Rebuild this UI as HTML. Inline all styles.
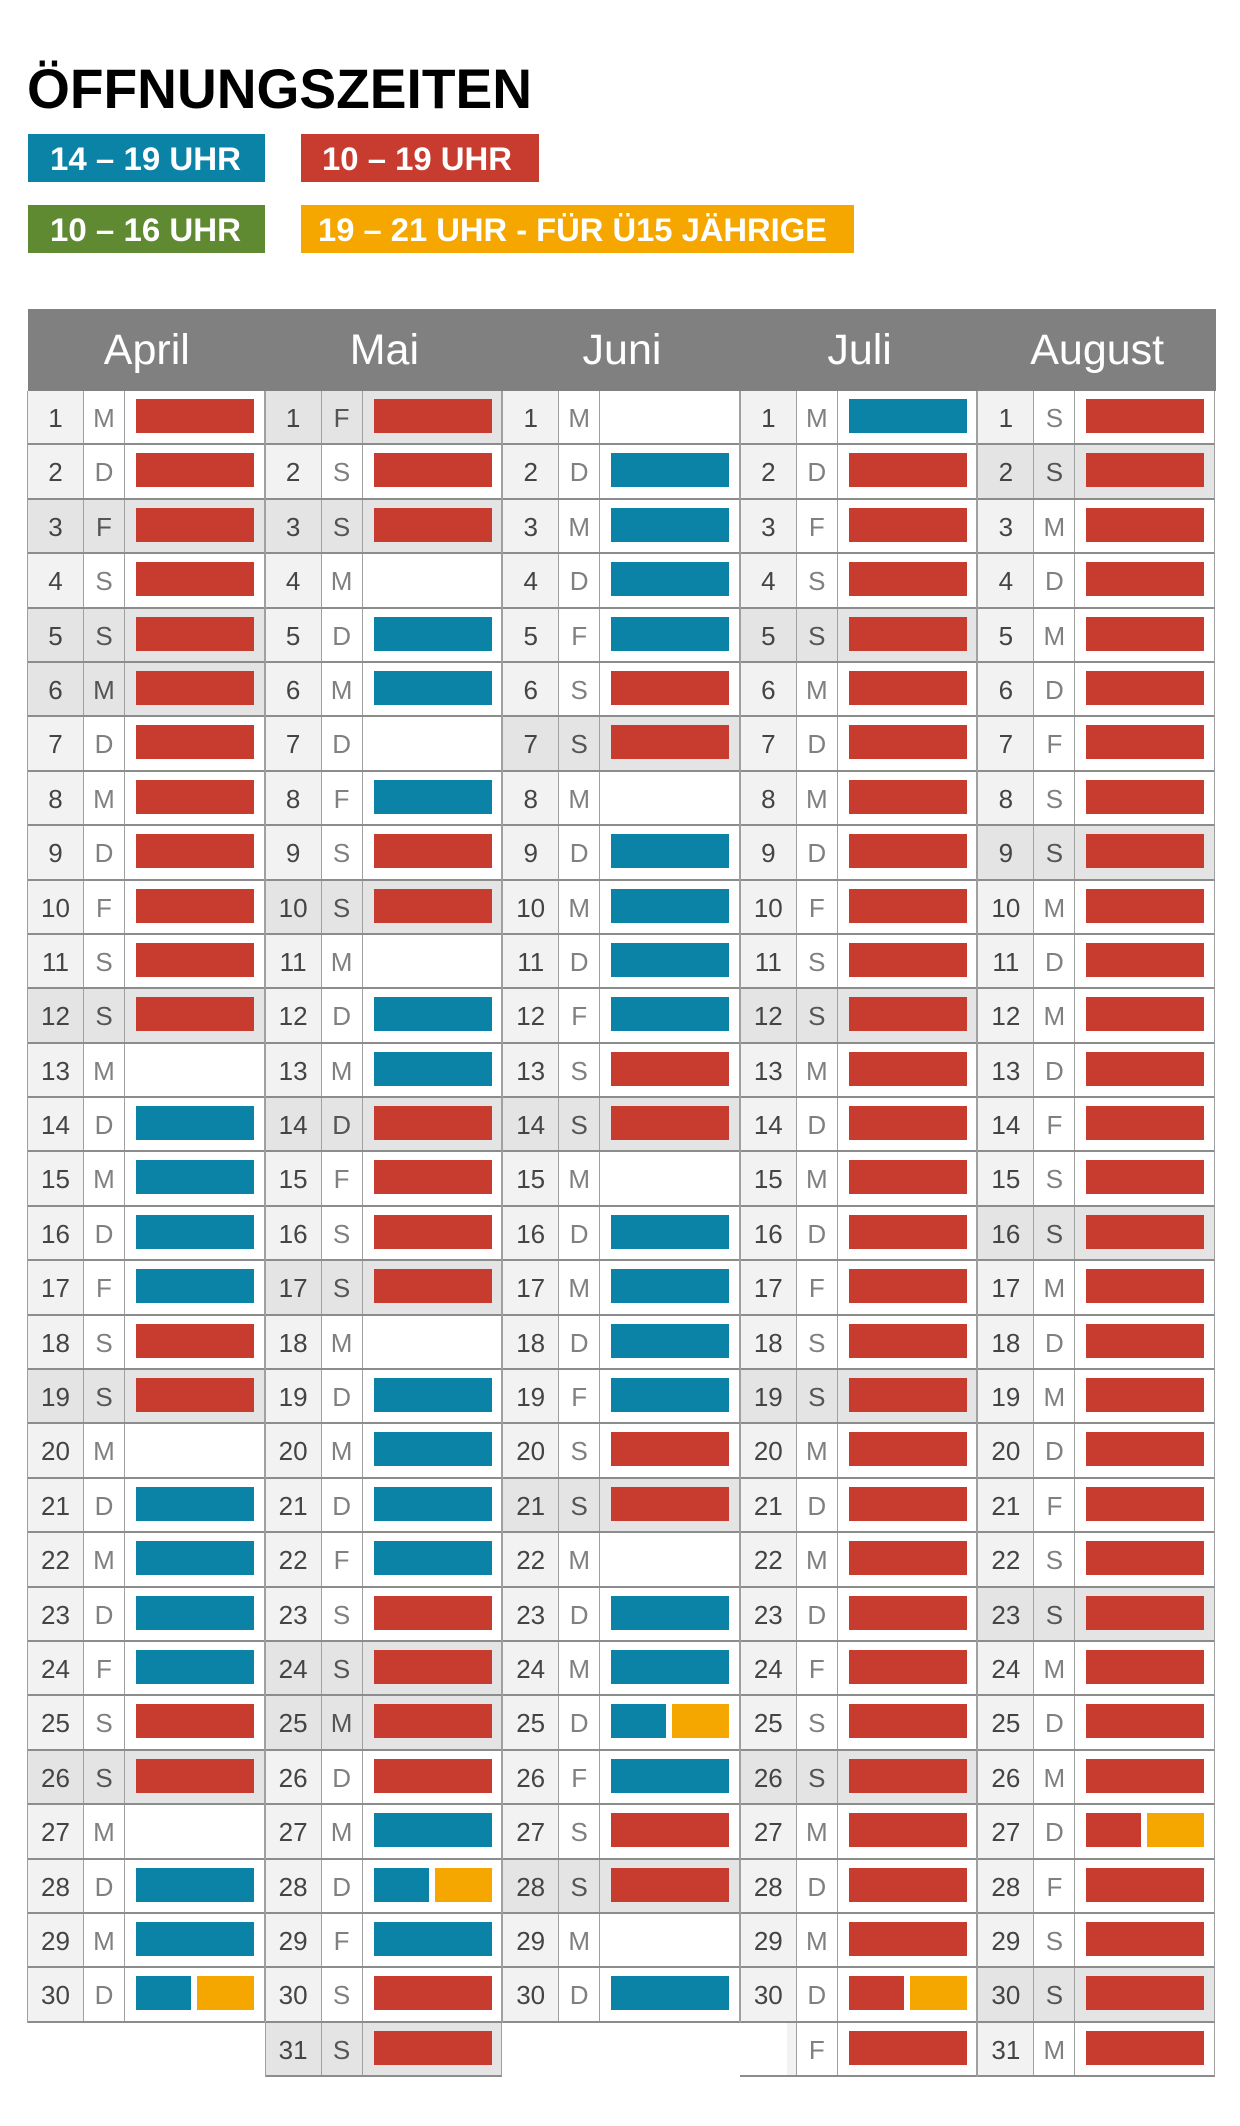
<!DOCTYPE html>
<html><head><meta charset="utf-8"><style>
*{margin:0;padding:0;box-sizing:border-box}
body{width:1240px;height:2126px;background:#fff;position:relative;overflow:hidden;font-family:"Liberation Sans",sans-serif}
#top{position:absolute;left:0;top:0}
#hdr{position:absolute;left:28px;top:309px;width:1188px;height:82px;background:#808080}
#hdr div{position:absolute;top:0;width:237.6px;height:82px;line-height:82px;text-align:center;color:#fff;font-size:43px}
.col{position:absolute;top:391px;width:237.6px;border-left:1px solid #a0a0a0}
.r{display:flex;height:54.4px;border-bottom:2px solid #8c8c8c;border-right:1px solid #a0a0a0;background:#fff}
.r i{font-style:normal;width:56px;background:#f2f2f2;border-right:1px solid #a0a0a0;text-align:center;line-height:54px;font-size:26px;color:#444}
.r b{font-weight:normal;width:41px;border-right:1px solid #a0a0a0;text-align:center;line-height:54px;font-size:26px;color:#808080}
.r u{flex:1;position:relative;text-decoration:none}
.r.s,.r.s i{background:#e4e4e4}
.r.s b{color:#555}
u.R::before,u.B::before,u.RO::before,u.BO::before{content:"";position:absolute;left:11px;top:8px;width:118px;height:34px}
u.R::before{background:#c83c30}
u.B::before{background:#0b83a7}
u.RO::before{background:#c83c30;width:55px}
u.BO::before{background:#0b83a7;width:55px}
u.RO::after,u.BO::after{content:"";position:absolute;left:72px;top:8px;width:57px;height:34px;background:#f5a700}
</style></head><body>
<svg id="top" width="1240" height="300" xmlns="http://www.w3.org/2000/svg" font-family="Liberation Sans, sans-serif" font-weight="bold">
<text x="27" y="108" font-size="56" textLength="505" lengthAdjust="spacingAndGlyphs">ÖFFNUNGSZEITEN</text>
<rect x="28" y="134" width="237" height="48" fill="#0b83a7"/>
<rect x="301" y="134" width="238" height="48" fill="#c83c30"/>
<rect x="28" y="205" width="237" height="48" fill="#5f8a31"/>
<rect x="301" y="205" width="553" height="48" fill="#f5a700"/>
<g fill="#fff" font-size="32">
<text x="50" y="170" textLength="191" lengthAdjust="spacingAndGlyphs">14 – 19 UHR</text>
<text x="322" y="170" textLength="190" lengthAdjust="spacingAndGlyphs">10 – 19 UHR</text>
<text x="50" y="241" textLength="191" lengthAdjust="spacingAndGlyphs">10 – 16 UHR</text>
<text x="318" y="241" textLength="509" lengthAdjust="spacingAndGlyphs">19 – 21 UHR - FÜR Ü15 JÄHRIGE</text>
</g></svg>
<div id="hdr"><div style="left:0">April</div><div style="left:237.6px">Mai</div><div style="left:475.2px">Juni</div><div style="left:712.8px">Juli</div><div style="left:950.4px">August</div></div>

<div class="col" style="left:27px">
<div class="r"><i>1</i><b>M</b><u class="R"></u></div>
<div class="r"><i>2</i><b>D</b><u class="R"></u></div>
<div class="r s"><i>3</i><b>F</b><u class="R"></u></div>
<div class="r"><i>4</i><b>S</b><u class="R"></u></div>
<div class="r s"><i>5</i><b>S</b><u class="R"></u></div>
<div class="r s"><i>6</i><b>M</b><u class="R"></u></div>
<div class="r"><i>7</i><b>D</b><u class="R"></u></div>
<div class="r"><i>8</i><b>M</b><u class="R"></u></div>
<div class="r"><i>9</i><b>D</b><u class="R"></u></div>
<div class="r"><i>10</i><b>F</b><u class="R"></u></div>
<div class="r"><i>11</i><b>S</b><u class="R"></u></div>
<div class="r s"><i>12</i><b>S</b><u class="R"></u></div>
<div class="r"><i>13</i><b>M</b><u></u></div>
<div class="r"><i>14</i><b>D</b><u class="B"></u></div>
<div class="r"><i>15</i><b>M</b><u class="B"></u></div>
<div class="r"><i>16</i><b>D</b><u class="B"></u></div>
<div class="r"><i>17</i><b>F</b><u class="B"></u></div>
<div class="r"><i>18</i><b>S</b><u class="R"></u></div>
<div class="r s"><i>19</i><b>S</b><u class="R"></u></div>
<div class="r"><i>20</i><b>M</b><u></u></div>
<div class="r"><i>21</i><b>D</b><u class="B"></u></div>
<div class="r"><i>22</i><b>M</b><u class="B"></u></div>
<div class="r"><i>23</i><b>D</b><u class="B"></u></div>
<div class="r"><i>24</i><b>F</b><u class="B"></u></div>
<div class="r"><i>25</i><b>S</b><u class="R"></u></div>
<div class="r s"><i>26</i><b>S</b><u class="R"></u></div>
<div class="r"><i>27</i><b>M</b><u></u></div>
<div class="r"><i>28</i><b>D</b><u class="B"></u></div>
<div class="r"><i>29</i><b>M</b><u class="B"></u></div>
<div class="r"><i>30</i><b>D</b><u class="BO"></u></div>
</div>

<div class="col" style="left:264.6px">
<div class="r s"><i>1</i><b>F</b><u class="R"></u></div>
<div class="r"><i>2</i><b>S</b><u class="R"></u></div>
<div class="r s"><i>3</i><b>S</b><u class="R"></u></div>
<div class="r"><i>4</i><b>M</b><u></u></div>
<div class="r"><i>5</i><b>D</b><u class="B"></u></div>
<div class="r"><i>6</i><b>M</b><u class="B"></u></div>
<div class="r"><i>7</i><b>D</b><u></u></div>
<div class="r"><i>8</i><b>F</b><u class="B"></u></div>
<div class="r"><i>9</i><b>S</b><u class="R"></u></div>
<div class="r s"><i>10</i><b>S</b><u class="R"></u></div>
<div class="r"><i>11</i><b>M</b><u></u></div>
<div class="r"><i>12</i><b>D</b><u class="B"></u></div>
<div class="r"><i>13</i><b>M</b><u class="B"></u></div>
<div class="r s"><i>14</i><b>D</b><u class="R"></u></div>
<div class="r"><i>15</i><b>F</b><u class="R"></u></div>
<div class="r"><i>16</i><b>S</b><u class="R"></u></div>
<div class="r s"><i>17</i><b>S</b><u class="R"></u></div>
<div class="r"><i>18</i><b>M</b><u></u></div>
<div class="r"><i>19</i><b>D</b><u class="B"></u></div>
<div class="r"><i>20</i><b>M</b><u class="B"></u></div>
<div class="r"><i>21</i><b>D</b><u class="B"></u></div>
<div class="r"><i>22</i><b>F</b><u class="B"></u></div>
<div class="r"><i>23</i><b>S</b><u class="R"></u></div>
<div class="r s"><i>24</i><b>S</b><u class="R"></u></div>
<div class="r s"><i>25</i><b>M</b><u class="R"></u></div>
<div class="r"><i>26</i><b>D</b><u class="R"></u></div>
<div class="r"><i>27</i><b>M</b><u class="B"></u></div>
<div class="r"><i>28</i><b>D</b><u class="BO"></u></div>
<div class="r"><i>29</i><b>F</b><u class="B"></u></div>
<div class="r"><i>30</i><b>S</b><u class="R"></u></div>
<div class="r s"><i>31</i><b>S</b><u class="R"></u></div>
</div>

<div class="col" style="left:502.2px">
<div class="r"><i>1</i><b>M</b><u></u></div>
<div class="r"><i>2</i><b>D</b><u class="B"></u></div>
<div class="r"><i>3</i><b>M</b><u class="B"></u></div>
<div class="r"><i>4</i><b>D</b><u class="B"></u></div>
<div class="r"><i>5</i><b>F</b><u class="B"></u></div>
<div class="r"><i>6</i><b>S</b><u class="R"></u></div>
<div class="r s"><i>7</i><b>S</b><u class="R"></u></div>
<div class="r"><i>8</i><b>M</b><u></u></div>
<div class="r"><i>9</i><b>D</b><u class="B"></u></div>
<div class="r"><i>10</i><b>M</b><u class="B"></u></div>
<div class="r"><i>11</i><b>D</b><u class="B"></u></div>
<div class="r"><i>12</i><b>F</b><u class="B"></u></div>
<div class="r"><i>13</i><b>S</b><u class="R"></u></div>
<div class="r s"><i>14</i><b>S</b><u class="R"></u></div>
<div class="r"><i>15</i><b>M</b><u></u></div>
<div class="r"><i>16</i><b>D</b><u class="B"></u></div>
<div class="r"><i>17</i><b>M</b><u class="B"></u></div>
<div class="r"><i>18</i><b>D</b><u class="B"></u></div>
<div class="r"><i>19</i><b>F</b><u class="B"></u></div>
<div class="r"><i>20</i><b>S</b><u class="R"></u></div>
<div class="r s"><i>21</i><b>S</b><u class="R"></u></div>
<div class="r"><i>22</i><b>M</b><u></u></div>
<div class="r"><i>23</i><b>D</b><u class="B"></u></div>
<div class="r"><i>24</i><b>M</b><u class="B"></u></div>
<div class="r"><i>25</i><b>D</b><u class="BO"></u></div>
<div class="r"><i>26</i><b>F</b><u class="B"></u></div>
<div class="r"><i>27</i><b>S</b><u class="R"></u></div>
<div class="r s"><i>28</i><b>S</b><u class="R"></u></div>
<div class="r"><i>29</i><b>M</b><u></u></div>
<div class="r"><i>30</i><b>D</b><u class="B"></u></div>
</div>

<div class="col" style="left:739.8px">
<div class="r"><i>1</i><b>M</b><u class="B"></u></div>
<div class="r"><i>2</i><b>D</b><u class="R"></u></div>
<div class="r"><i>3</i><b>F</b><u class="R"></u></div>
<div class="r"><i>4</i><b>S</b><u class="R"></u></div>
<div class="r s"><i>5</i><b>S</b><u class="R"></u></div>
<div class="r"><i>6</i><b>M</b><u class="R"></u></div>
<div class="r"><i>7</i><b>D</b><u class="R"></u></div>
<div class="r"><i>8</i><b>M</b><u class="R"></u></div>
<div class="r"><i>9</i><b>D</b><u class="R"></u></div>
<div class="r"><i>10</i><b>F</b><u class="R"></u></div>
<div class="r"><i>11</i><b>S</b><u class="R"></u></div>
<div class="r s"><i>12</i><b>S</b><u class="R"></u></div>
<div class="r"><i>13</i><b>M</b><u class="R"></u></div>
<div class="r"><i>14</i><b>D</b><u class="R"></u></div>
<div class="r"><i>15</i><b>M</b><u class="R"></u></div>
<div class="r"><i>16</i><b>D</b><u class="R"></u></div>
<div class="r"><i>17</i><b>F</b><u class="R"></u></div>
<div class="r"><i>18</i><b>S</b><u class="R"></u></div>
<div class="r s"><i>19</i><b>S</b><u class="R"></u></div>
<div class="r"><i>20</i><b>M</b><u class="R"></u></div>
<div class="r"><i>21</i><b>D</b><u class="R"></u></div>
<div class="r"><i>22</i><b>M</b><u class="R"></u></div>
<div class="r"><i>23</i><b>D</b><u class="R"></u></div>
<div class="r"><i>24</i><b>F</b><u class="R"></u></div>
<div class="r"><i>25</i><b>S</b><u class="R"></u></div>
<div class="r s"><i>26</i><b>S</b><u class="R"></u></div>
<div class="r"><i>27</i><b>M</b><u class="R"></u></div>
<div class="r"><i>28</i><b>D</b><u class="R"></u></div>
<div class="r"><i>29</i><b>M</b><u class="R"></u></div>
<div class="r"><i>30</i><b>D</b><u class="RO"></u></div>
<div class="r" style="margin-left:-1px;background:transparent"><i style="width:57px;background:linear-gradient(90deg,#fff 0,#fff 47px,#f2f2f2 47px)"></i><b style="background:#fff">F</b><u class="R" style="background:#fff"></u></div>
</div>

<div class="col" style="left:977.4px">
<div class="r"><i>1</i><b>S</b><u class="R"></u></div>
<div class="r s"><i>2</i><b>S</b><u class="R"></u></div>
<div class="r"><i>3</i><b>M</b><u class="R"></u></div>
<div class="r"><i>4</i><b>D</b><u class="R"></u></div>
<div class="r"><i>5</i><b>M</b><u class="R"></u></div>
<div class="r"><i>6</i><b>D</b><u class="R"></u></div>
<div class="r"><i>7</i><b>F</b><u class="R"></u></div>
<div class="r"><i>8</i><b>S</b><u class="R"></u></div>
<div class="r s"><i>9</i><b>S</b><u class="R"></u></div>
<div class="r"><i>10</i><b>M</b><u class="R"></u></div>
<div class="r"><i>11</i><b>D</b><u class="R"></u></div>
<div class="r"><i>12</i><b>M</b><u class="R"></u></div>
<div class="r"><i>13</i><b>D</b><u class="R"></u></div>
<div class="r"><i>14</i><b>F</b><u class="R"></u></div>
<div class="r"><i>15</i><b>S</b><u class="R"></u></div>
<div class="r s"><i>16</i><b>S</b><u class="R"></u></div>
<div class="r"><i>17</i><b>M</b><u class="R"></u></div>
<div class="r"><i>18</i><b>D</b><u class="R"></u></div>
<div class="r"><i>19</i><b>M</b><u class="R"></u></div>
<div class="r"><i>20</i><b>D</b><u class="R"></u></div>
<div class="r"><i>21</i><b>F</b><u class="R"></u></div>
<div class="r"><i>22</i><b>S</b><u class="R"></u></div>
<div class="r s"><i>23</i><b>S</b><u class="R"></u></div>
<div class="r"><i>24</i><b>M</b><u class="R"></u></div>
<div class="r"><i>25</i><b>D</b><u class="R"></u></div>
<div class="r"><i>26</i><b>M</b><u class="R"></u></div>
<div class="r"><i>27</i><b>D</b><u class="RO"></u></div>
<div class="r"><i>28</i><b>F</b><u class="R"></u></div>
<div class="r"><i>29</i><b>S</b><u class="R"></u></div>
<div class="r s"><i>30</i><b>S</b><u class="R"></u></div>
<div class="r"><i>31</i><b>M</b><u class="R"></u></div>
</div>
</body></html>
